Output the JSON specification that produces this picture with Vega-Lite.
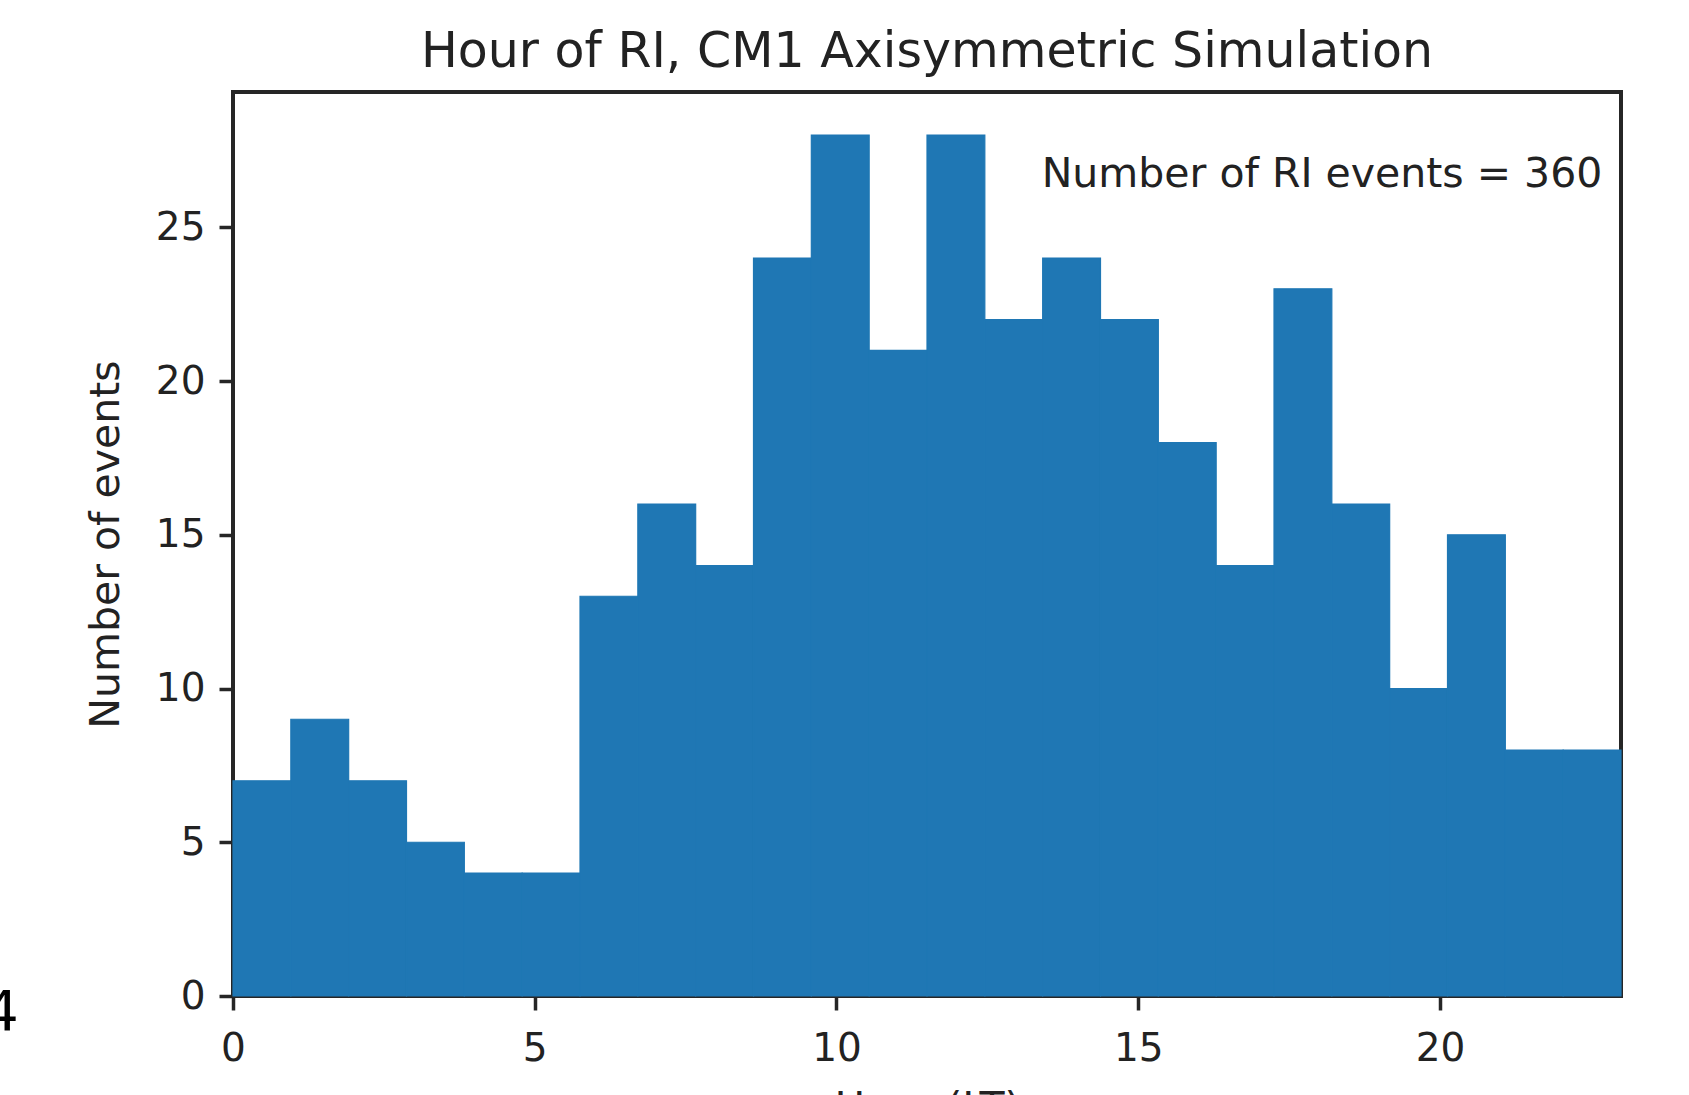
{
  "$schema": "https://vega.github.io/schema/vega-lite/v6.json",
  "autosize": "none",
  "width": 1388,
  "height": 904,
  "padding": {"left": 233, "top": 92, "right": 68, "bottom": 99},
  "background": "white",
  "title": {
    "text": "Hour of RI, CM1 Axisymmetric Simulation",
    "fontSize": 49,
    "font": "DejaVu Sans",
    "fontWeight": "normal",
    "color": "#222222",
    "baseline": "bottom",
    "offset": 12,
    "dy": 46,
    "anchor": "middle"
  },
  "config": {
    "font": "DejaVu Sans",
    "view": {"stroke": "#262626", "strokeWidth": 4},
    "axis": {
      "grid": false,
      "domain": false,
      "tickColor": "#262626",
      "tickWidth": 3.5,
      "tickSize": 14,
      "labelFont": "DejaVu Sans",
      "labelFontSize": 39,
      "labelColor": "#222222",
      "titleFont": "DejaVu Sans",
      "titleFontSize": 41,
      "titleFontWeight": "normal",
      "titleColor": "#222222"
    }
  },
  "layer": [
    {
      "data": {"values": [
        {"start": 0, "end": 0.9583, "count": 7},
        {"start": 0.9583, "end": 1.9167, "count": 9},
        {"start": 1.9167, "end": 2.875, "count": 7},
        {"start": 2.875, "end": 3.8333, "count": 5},
        {"start": 3.8333, "end": 4.7917, "count": 4},
        {"start": 4.7917, "end": 5.75, "count": 4},
        {"start": 5.75, "end": 6.7083, "count": 13},
        {"start": 6.7083, "end": 7.6667, "count": 16},
        {"start": 7.6667, "end": 8.625, "count": 14},
        {"start": 8.625, "end": 9.5833, "count": 24},
        {"start": 9.5833, "end": 10.5417, "count": 28},
        {"start": 10.5417, "end": 11.5, "count": 21},
        {"start": 11.5, "end": 12.4583, "count": 28},
        {"start": 12.4583, "end": 13.4167, "count": 22},
        {"start": 13.4167, "end": 14.375, "count": 24},
        {"start": 14.375, "end": 15.3333, "count": 22},
        {"start": 15.3333, "end": 16.2917, "count": 18},
        {"start": 16.2917, "end": 17.25, "count": 14},
        {"start": 17.25, "end": 18.2083, "count": 23},
        {"start": 18.2083, "end": 19.1667, "count": 16},
        {"start": 19.1667, "end": 20.125, "count": 10},
        {"start": 20.125, "end": 21.0833, "count": 15},
        {"start": 21.0833, "end": 22.0417, "count": 8},
        {"start": 22.0417, "end": 23, "count": 8}
      ]},
      "mark": {"type": "bar", "color": "#1f77b4", "stroke": "#1f77b4", "strokeWidth": 1.2, "orient": "vertical"},
      "encoding": {
        "x": {
          "field": "start",
          "type": "quantitative",
          "scale": {"domain": [0, 23], "nice": false, "zero": false, "padding": 0},
          "axis": {"values": [0, 5, 10, 15, 20], "format": "d", "title": "Hour (LT)", "labelPadding": 19, "titlePadding": 20, "labelFlush": false}
        },
        "x2": {"field": "end"},
        "y": {
          "field": "count",
          "type": "quantitative",
          "scale": {"domain": [0, 29.4], "nice": false, "padding": 0},
          "axis": {"values": [0, 5, 10, 15, 20, 25], "format": "d", "title": "Number of events", "labelPadding": 14, "titlePadding": 28, "labelFlush": false}
        },
        "y2": {"datum": 0}
      }
    },
    {
      "data": {"values": [{"label": "Number of RI events = 360", "hour": 13.4, "count": 26.3}]},
      "mark": {"type": "text", "align": "left", "baseline": "alphabetic", "fontSize": 41, "color": "#222222", "font": "DejaVu Sans"},
      "encoding": {
        "x": {"field": "hour", "type": "quantitative"},
        "y": {"field": "count", "type": "quantitative"},
        "text": {"field": "label"}
      }
    },
    {
      "data": {"values": [{"label": "4", "hour": -3.55, "count": -1.1}]},
      "mark": {"type": "text", "align": "right", "baseline": "alphabetic", "fontSize": 55, "color": "#000000", "font": "DejaVu Sans", "clip": false},
      "encoding": {
        "x": {"field": "hour", "type": "quantitative"},
        "y": {"field": "count", "type": "quantitative"},
        "text": {"field": "label"}
      }
    }
  ]
}
